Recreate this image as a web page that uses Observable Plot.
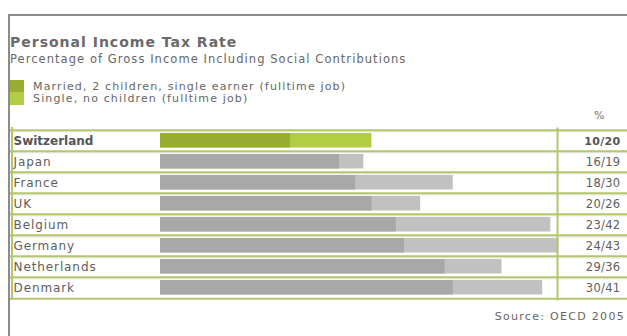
<!DOCTYPE html>
<html>
<head>
<meta charset="utf-8">
<script src="https://cdn.jsdelivr.net/npm/d3@7"></script>
<script src="https://cdn.jsdelivr.net/npm/@observablehq/plot@0.6"></script>
<style>
  html, body { margin: 0; padding: 0; background: #fff; }
  #wrap { position: relative; width: 627px; height: 336px; overflow: hidden; font-family: "DejaVu Sans", Verdana, sans-serif; color: #666; }
  #frame { position: absolute; left: 8px; top: 14px; width: 700px; height: 400px; border-top: 2px solid #8c8c8c; border-left: 2px solid #8c8c8c; }
  #tableLeft { position: absolute; left: 11px; top: 127px; width: 2px; height: 173px; background: #b3c86c; }
  .t { position: absolute; white-space: nowrap; }
  #title { left: 10px; top: 34px; font-size: 14px; line-height: 16px; font-weight: bold; letter-spacing: 1px; color: #6a6a6a; }
  #subtitle { left: 10px; top: 51.5px; font-size: 11.5px; line-height: 14px; letter-spacing: 1.05px; }
  #legend { position: absolute; left: 10px; top: 79.5px; }
  .sw { position: absolute; left: 0; width: 14px; height: 13px; }
  .lt { position: absolute; left: 23px; font-size: 11px; line-height: 12.3px; white-space: nowrap; letter-spacing: 1.15px; }
  #pct { left: 594px; top: 109px; font-size: 11px; line-height: 13px; color: #777; }
  #source { right: 2px; top: 310px; font-size: 11px; line-height: 13px; letter-spacing: 1.3px; color: #666; }
  #chart { position: absolute; left: 0; top: 108px; }
  #chart g[font-weight=bold] text { letter-spacing: 0; }
  #chart g[aria-description=values] text { letter-spacing: 0.3px; }
</style>
</head>
<body>
<div id="wrap">
  <div id="frame"></div>
  <div class="t" id="title">Personal Income Tax Rate</div>
  <div class="t" id="subtitle">Percentage of Gross Income Including Social Contributions</div>
  <div id="legend"></div>
  <div class="t" id="pct">%</div>
  <div id="chart"></div>
  <div id="tableLeft"></div>
  <div class="t" id="source">Source: OECD 2005</div>
</div>
<script>
// ---- data ----
const countries = ["Switzerland", "Japan", "France", "UK", "Belgium", "Germany", "Netherlands", "Denmark"];
const married = [10, 16, 18, 20, 23, 24, 29, 30];   // Married, 2 children, single earner (fulltime job)
const single  = [20, 19, 30, 26, 42, 43, 36, 41];   // Single, no children (fulltime job)
const seriesNames = ["Married, 2 children, single earner (fulltime job)", "Single, no children (fulltime job)"];
const highlight = "Switzerland";

// ---- styles ----
const greenDark = "#99ad32", greenLight = "#b0cd43";
const grayDark = "#a8a8a8", grayLight = "#c1c1c1";
const lineGreen = "#b3c86c";
const xDomain = [-6, 47];

const rows = countries.map((c, i) => ({country: c, married: married[i], single: single[i], label: `${married[i]}/${single[i]}`}));

// legend
const legend = document.getElementById("legend");
[[greenDark, seriesNames[0]], [greenLight, seriesNames[1]]].forEach(([col, name], i) => {
  const sw = document.createElement("div");
  sw.className = "sw"; sw.style.background = col; sw.style.top = (i * 12.7) + "px";
  legend.appendChild(sw);
  const lt = document.createElement("div");
  lt.className = "lt"; lt.textContent = name; lt.style.top = (1.2 + i * 12.4) + "px";
  legend.appendChild(lt);
});

const step = 171 / countries.length;
const font = "DejaVu Sans, Verdana, sans-serif";

const chart = Plot.plot({
  width: 627,
  height: 195,
  marginTop: 20,
  marginBottom: 4,
  marginLeft: 10,
  marginRight: 0,
  style: {fontFamily: font, letterSpacing: "0.9px", background: "transparent"},
  x: {domain: xDomain, range: [160, 591], axis: null},
  y: {domain: countries, padding: 0, axis: null},
  marks: [
    Plot.barX(rows, {y: "country", x1: xDomain[0], x2: "single", fill: d => d.country === highlight ? greenLight : grayLight, insetTop: 3, insetBottom: 3.5}),
    Plot.barX(rows, {y: "country", x1: xDomain[0], x2: "married", fill: d => d.country === highlight ? greenDark : grayDark, insetTop: 3, insetBottom: 3.5}),
    Plot.ruleY(countries, {y: d => d, dy: -step / 2 + 1.5, stroke: "#e2e2e2", strokeWidth: 1}),
    Plot.ruleY(countries, {y: d => d, dy: -step / 2, stroke: lineGreen, strokeWidth: 2}),
    Plot.ruleY([countries[countries.length - 1]], {y: d => d, dy: step / 2, stroke: lineGreen, strokeWidth: 2}),
    Plot.frame({anchor: "right", dx: -70, stroke: lineGreen, strokeWidth: 2}),
    Plot.text(rows, {filter: d => d.country !== highlight, y: "country", text: "country", frameAnchor: "left", textAnchor: "start", dx: 3, fontSize: 12, fill: "#5e5e5e"}),
    Plot.text(rows, {filter: d => d.country === highlight, y: "country", text: "country", frameAnchor: "left", textAnchor: "start", dx: 3, fontSize: 12, fontWeight: "bold", fill: "#555"}),
    Plot.text(rows, {filter: d => d.country !== highlight, y: "country", text: "label", frameAnchor: "right", textAnchor: "end", dx: -7, fontSize: 11.5, fill: "#5e5e5e", ariaDescription: "values"}),
    Plot.text(rows, {filter: d => d.country === highlight, y: "country", text: "label", frameAnchor: "right", textAnchor: "end", dx: -7, fontSize: 11, fontWeight: "bold", fill: "#555", ariaDescription: "values"})
  ]
});
document.getElementById("chart").appendChild(chart);
</script>
</body>
</html>
